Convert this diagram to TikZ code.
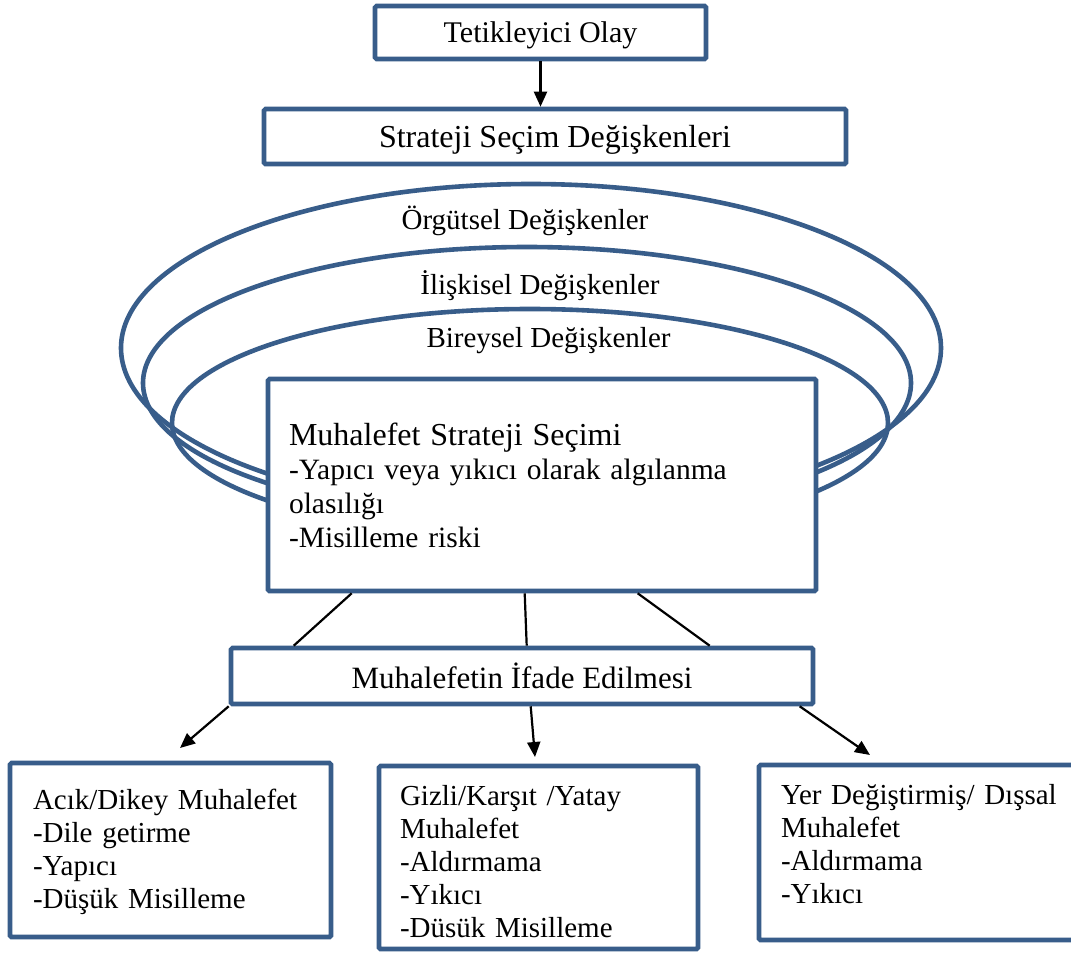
\documentclass[tikz,border=0pt]{standalone}
\usepackage{fontspec}
\setmainfont{Liberation Serif}
\usetikzlibrary{arrows.meta,calc}
\definecolor{boxblue}{RGB}{56,93,138}
\begin{document}
\begin{tikzpicture}[x=1pt,y=-1pt,
  box/.style={draw=boxblue,line width=4.6pt,fill=white,rounded corners=1.5pt,inner sep=0pt,align=center},
  onebox/.style={box,text depth=0pt},
  txtbox/.style={box,align=left,inner ysep=0pt},
  ring/.style={draw=boxblue,line width=4.6pt},
  link/.style={draw=black,line width=2.2pt},
  arr/.style={link,-{Triangle[length=15pt,width=13pt]}},
  lbl/.style={inner sep=0pt,anchor=base,font=\fontsize{29}{33}\selectfont}]
\clip (0,0) rectangle (1071,953);
\fill[white] (0,0) rectangle (1071,953);

% nested ellipses
\draw[ring] (531,348) ellipse [x radius=410pt, y radius=164pt];
\draw[ring] (527,383) ellipse [x radius=384pt, y radius=136pt];
\draw[ring] (530,423) ellipse [x radius=358pt, y radius=114pt];
\node[lbl] (org) at (525,229) {Örgütsel Değişkenler};
\node[lbl] (ili) at (540,294) {İlişkisel Değişkenler};
\node[lbl] (bir) at (548.5,347) {Bireysel Değişkenler};

% boxes
\node[onebox,minimum width=331pt,minimum height=53pt,font=\fontsize{30}{34}\selectfont] (tet) at (540.5,32.5) {Tetikleyici Olay};
\node[onebox,minimum width=582pt,minimum height=55pt,font=\fontsize{32}{36}\selectfont] (strat) at (555,136.5) {Strateji Seçim Değişkenleri};
\node[txtbox,minimum width=548pt,minimum height=212pt,inner xsep=21pt,text width=506pt,font=\fontsize{29.5}{34}\selectfont] (main) at (542,485)
  {{\fontsize{32}{34}\selectfont Muhalefet Strateji Seçimi}\\-Yapıcı veya yıkıcı olarak algılanma\\olasılığı\\-Misilleme riski};
\node[onebox,minimum width=582pt,minimum height=56pt,font=\fontsize{31}{35}\selectfont] (ifade) at (522,676) {Muhalefetin İfade Edilmesi};

\node[txtbox,minimum width=321pt,minimum height=174pt,inner xsep=23pt,text width=275pt,font=\fontsize{29}{33}\selectfont] (b1) at (170.5,850)
  {\rule{0pt}{25pt}Acık/Dikey Muhalefet\\-Dile getirme\\-Yapıcı\\-Düşük Misilleme};
\node[txtbox,minimum width=319pt,minimum height=183pt,inner xsep=21pt,text width=277pt,font=\fontsize{29}{33}\selectfont] (b2) at (538.5,857.5)
  {\rule{0pt}{29pt}Gizli/Karşıt /Yatay\\Muhalefet\\-Aldırmama\\-Yıkıcı\\-Düsük Misilleme};
\node[txtbox,minimum width=331pt,minimum height=175pt,inner xsep=22pt,text width=287pt,font=\fontsize{29}{33}\selectfont] (b3) at (924.5,852.5)
  {Yer Değiştirmiş/ Dışsal\\Muhalefet\\-Aldırmama\\-Yıkıcı\\[-16pt]\mbox{}};

% connectors
\draw[arr] (tet.south) -- (tet.south |- strat.north);
\draw[link] ([xshift=86pt]main.south west) -- ([xshift=65pt]ifade.north west);
\draw[link] ([xshift=259pt]main.south west) -- ([xshift=298pt]ifade.north west);
\draw[link] ([xshift=372pt]main.south west) -- ([xshift=481pt]ifade.north west);

\coordinate (t1) at (180,748);
\coordinate (t2) at (535,757);
\coordinate (t3) at (870,755);
\draw[arr] (ifade.south west) -- (t1);
\draw[arr] ([xshift=302pt]ifade.south west) -- (t2);
\draw[arr] ([xshift=571pt]ifade.south west) -- (t3);
\end{tikzpicture}
\end{document}
